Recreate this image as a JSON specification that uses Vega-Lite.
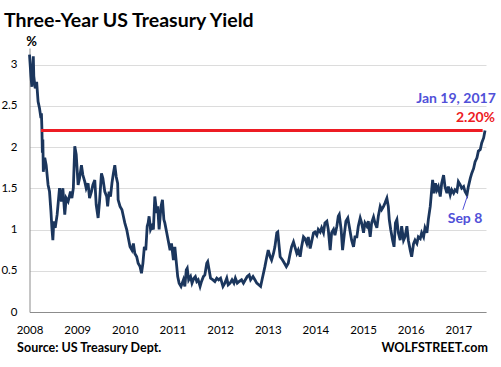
{
  "$schema": "https://vega.github.io/schema/vega-lite/v6.json",
  "width": 456.5,
  "height": 264,
  "autosize": "none",
  "padding": {"left": 29.5, "top": 48, "right": 15, "bottom": 55},
  "background": "white",
  "config": {"view": {"stroke": null}, "font": "Lato"},
  "title": {"text": "Three-Year US Treasury Yield", "anchor": "start", "frame": "group", "dx": -25.5, "dy": 21, "offset": 10, "font": "Lato", "fontSize": 19.5, "fontWeight": "bold", "color": "#000000", "baseline": "alphabetic"},
  "datasets": {
    "yield": [
      {"t": 2008.00, "v": 3.12}, {"t": 2008.03, "v": 2.86}, {"t": 2008.05, "v": 2.73}, {"t": 2008.08, "v": 3.10}, {"t": 2008.09, "v": 2.86},
      {"t": 2008.12, "v": 2.71}, {"t": 2008.15, "v": 2.79}, {"t": 2008.18, "v": 2.55}, {"t": 2008.21, "v": 2.47}, {"t": 2008.24, "v": 2.35},
      {"t": 2008.25, "v": 2.41}, {"t": 2008.26, "v": 2.23}, {"t": 2008.27, "v": 1.93}, {"t": 2008.28, "v": 2.09}, {"t": 2008.29, "v": 1.70},
      {"t": 2008.32, "v": 1.87}, {"t": 2008.35, "v": 1.78}, {"t": 2008.39, "v": 1.54}, {"t": 2008.42, "v": 1.46}, {"t": 2008.45, "v": 1.22},
      {"t": 2008.47, "v": 1.02}, {"t": 2008.49, "v": 0.87}, {"t": 2008.51, "v": 1.10}, {"t": 2008.54, "v": 1.02}, {"t": 2008.58, "v": 1.18},
      {"t": 2008.63, "v": 1.50}, {"t": 2008.67, "v": 1.34}, {"t": 2008.70, "v": 1.50}, {"t": 2008.74, "v": 1.18}, {"t": 2008.77, "v": 1.38},
      {"t": 2008.81, "v": 1.34}, {"t": 2008.86, "v": 1.46}, {"t": 2008.89, "v": 1.38}, {"t": 2008.92, "v": 1.50}, {"t": 2008.95, "v": 2.01},
      {"t": 2008.98, "v": 1.91}, {"t": 2009.02, "v": 1.54}, {"t": 2009.05, "v": 1.62}, {"t": 2009.09, "v": 1.78}, {"t": 2009.12, "v": 1.66},
      {"t": 2009.16, "v": 1.58}, {"t": 2009.19, "v": 1.50}, {"t": 2009.23, "v": 1.56}, {"t": 2009.26, "v": 1.38}, {"t": 2009.30, "v": 1.46},
      {"t": 2009.33, "v": 1.54}, {"t": 2009.37, "v": 1.60}, {"t": 2009.40, "v": 1.30}, {"t": 2009.44, "v": 1.14}, {"t": 2009.47, "v": 1.34},
      {"t": 2009.51, "v": 1.68}, {"t": 2009.54, "v": 1.62}, {"t": 2009.58, "v": 1.46}, {"t": 2009.62, "v": 1.40}, {"t": 2009.64, "v": 1.28},
      {"t": 2009.67, "v": 1.46}, {"t": 2009.70, "v": 1.40}, {"t": 2009.73, "v": 1.56}, {"t": 2009.76, "v": 1.68}, {"t": 2009.79, "v": 1.78},
      {"t": 2009.82, "v": 1.64}, {"t": 2009.85, "v": 1.56}, {"t": 2009.86, "v": 1.36}, {"t": 2009.90, "v": 1.28}, {"t": 2009.94, "v": 1.24},
      {"t": 2009.97, "v": 1.16}, {"t": 2010.00, "v": 1.08}, {"t": 2010.04, "v": 1.00}, {"t": 2010.07, "v": 0.91}, {"t": 2010.11, "v": 0.79},
      {"t": 2010.15, "v": 0.75}, {"t": 2010.18, "v": 0.83}, {"t": 2010.21, "v": 0.71}, {"t": 2010.25, "v": 0.67}, {"t": 2010.28, "v": 0.59},
      {"t": 2010.32, "v": 0.55}, {"t": 2010.35, "v": 0.47}, {"t": 2010.38, "v": 0.59}, {"t": 2010.41, "v": 0.79}, {"t": 2010.44, "v": 0.75},
      {"t": 2010.47, "v": 1.04}, {"t": 2010.49, "v": 1.08}, {"t": 2010.51, "v": 1.16}, {"t": 2010.54, "v": 1.00}, {"t": 2010.57, "v": 1.04},
      {"t": 2010.60, "v": 1.00}, {"t": 2010.63, "v": 1.40}, {"t": 2010.67, "v": 1.20}, {"t": 2010.69, "v": 1.28}, {"t": 2010.72, "v": 1.00},
      {"t": 2010.76, "v": 1.28}, {"t": 2010.79, "v": 1.36}, {"t": 2010.82, "v": 1.12}, {"t": 2010.84, "v": 1.08}, {"t": 2010.88, "v": 0.96},
      {"t": 2010.91, "v": 0.87}, {"t": 2010.95, "v": 0.75}, {"t": 2010.98, "v": 0.83}, {"t": 2011.02, "v": 0.63}, {"t": 2011.05, "v": 0.79},
      {"t": 2011.09, "v": 0.55}, {"t": 2011.11, "v": 0.43}, {"t": 2011.14, "v": 0.35}, {"t": 2011.18, "v": 0.31}, {"t": 2011.23, "v": 0.39},
      {"t": 2011.26, "v": 0.31}, {"t": 2011.29, "v": 0.51}, {"t": 2011.31, "v": 0.53}, {"t": 2011.34, "v": 0.39}, {"t": 2011.38, "v": 0.43},
      {"t": 2011.41, "v": 0.35}, {"t": 2011.45, "v": 0.41}, {"t": 2011.48, "v": 0.43}, {"t": 2011.51, "v": 0.37}, {"t": 2011.54, "v": 0.39},
      {"t": 2011.58, "v": 0.31}, {"t": 2011.61, "v": 0.37}, {"t": 2011.65, "v": 0.43}, {"t": 2011.68, "v": 0.45}, {"t": 2011.72, "v": 0.59},
      {"t": 2011.74, "v": 0.61}, {"t": 2011.77, "v": 0.51}, {"t": 2011.80, "v": 0.41}, {"t": 2011.85, "v": 0.39}, {"t": 2011.89, "v": 0.37},
      {"t": 2011.93, "v": 0.41}, {"t": 2011.97, "v": 0.39}, {"t": 2012.01, "v": 0.41}, {"t": 2012.06, "v": 0.31}, {"t": 2012.10, "v": 0.35},
      {"t": 2012.14, "v": 0.41}, {"t": 2012.17, "v": 0.33}, {"t": 2012.21, "v": 0.35}, {"t": 2012.25, "v": 0.39}, {"t": 2012.29, "v": 0.35},
      {"t": 2012.32, "v": 0.41}, {"t": 2012.36, "v": 0.35}, {"t": 2012.40, "v": 0.37}, {"t": 2012.45, "v": 0.39}, {"t": 2012.49, "v": 0.35},
      {"t": 2012.53, "v": 0.39}, {"t": 2012.57, "v": 0.43}, {"t": 2012.61, "v": 0.45}, {"t": 2012.64, "v": 0.39}, {"t": 2012.69, "v": 0.43},
      {"t": 2012.73, "v": 0.39}, {"t": 2012.77, "v": 0.35}, {"t": 2012.81, "v": 0.33}, {"t": 2012.85, "v": 0.31}, {"t": 2012.88, "v": 0.39},
      {"t": 2012.91, "v": 0.47}, {"t": 2012.94, "v": 0.55}, {"t": 2012.98, "v": 0.67}, {"t": 2013.01, "v": 0.75}, {"t": 2013.05, "v": 0.67},
      {"t": 2013.08, "v": 0.63}, {"t": 2013.12, "v": 0.71}, {"t": 2013.15, "v": 0.79}, {"t": 2013.19, "v": 0.96}, {"t": 2013.21, "v": 0.97},
      {"t": 2013.24, "v": 0.79}, {"t": 2013.26, "v": 0.67}, {"t": 2013.31, "v": 0.63}, {"t": 2013.35, "v": 0.59}, {"t": 2013.39, "v": 0.55},
      {"t": 2013.43, "v": 0.59}, {"t": 2013.47, "v": 0.71}, {"t": 2013.50, "v": 0.79}, {"t": 2013.54, "v": 0.85}, {"t": 2013.57, "v": 0.79},
      {"t": 2013.61, "v": 0.71}, {"t": 2013.64, "v": 0.75}, {"t": 2013.68, "v": 0.67}, {"t": 2013.71, "v": 0.79}, {"t": 2013.75, "v": 0.91},
      {"t": 2013.78, "v": 0.89}, {"t": 2013.82, "v": 0.83}, {"t": 2013.85, "v": 0.91}, {"t": 2013.89, "v": 0.77}, {"t": 2013.92, "v": 0.85},
      {"t": 2013.96, "v": 0.96}, {"t": 2013.99, "v": 0.97}, {"t": 2014.03, "v": 0.93}, {"t": 2014.06, "v": 1.00}, {"t": 2014.10, "v": 0.97},
      {"t": 2014.13, "v": 1.02}, {"t": 2014.17, "v": 0.96}, {"t": 2014.20, "v": 1.08}, {"t": 2014.24, "v": 1.10}, {"t": 2014.27, "v": 1.00},
      {"t": 2014.31, "v": 0.75}, {"t": 2014.34, "v": 0.96}, {"t": 2014.38, "v": 1.00}, {"t": 2014.41, "v": 0.93}, {"t": 2014.45, "v": 1.04},
      {"t": 2014.48, "v": 1.16}, {"t": 2014.50, "v": 1.18}, {"t": 2014.54, "v": 1.00}, {"t": 2014.57, "v": 0.75}, {"t": 2014.61, "v": 0.96},
      {"t": 2014.64, "v": 1.10}, {"t": 2014.68, "v": 1.14}, {"t": 2014.71, "v": 1.04}, {"t": 2014.76, "v": 0.87}, {"t": 2014.80, "v": 0.79},
      {"t": 2014.83, "v": 0.91}, {"t": 2014.87, "v": 0.91}, {"t": 2014.90, "v": 1.04}, {"t": 2014.94, "v": 1.14}, {"t": 2014.97, "v": 1.08},
      {"t": 2015.01, "v": 0.96}, {"t": 2015.04, "v": 1.08}, {"t": 2015.08, "v": 1.04}, {"t": 2015.11, "v": 1.10}, {"t": 2015.15, "v": 0.91},
      {"t": 2015.18, "v": 1.08}, {"t": 2015.22, "v": 1.15}, {"t": 2015.25, "v": 1.08}, {"t": 2015.29, "v": 1.02}, {"t": 2015.32, "v": 1.16},
      {"t": 2015.36, "v": 1.28}, {"t": 2015.39, "v": 1.24}, {"t": 2015.43, "v": 1.28}, {"t": 2015.46, "v": 1.32}, {"t": 2015.50, "v": 1.38},
      {"t": 2015.53, "v": 1.28}, {"t": 2015.55, "v": 1.12}, {"t": 2015.58, "v": 1.00}, {"t": 2015.62, "v": 0.87}, {"t": 2015.65, "v": 0.79},
      {"t": 2015.68, "v": 1.08}, {"t": 2015.71, "v": 1.12}, {"t": 2015.74, "v": 0.96}, {"t": 2015.78, "v": 0.87}, {"t": 2015.81, "v": 1.04},
      {"t": 2015.85, "v": 0.87}, {"t": 2015.88, "v": 0.91}, {"t": 2015.92, "v": 1.04}, {"t": 2015.95, "v": 0.87}, {"t": 2015.99, "v": 0.75},
      {"t": 2016.02, "v": 0.67}, {"t": 2016.06, "v": 0.83}, {"t": 2016.09, "v": 0.87}, {"t": 2016.13, "v": 0.83}, {"t": 2016.16, "v": 0.91},
      {"t": 2016.20, "v": 0.89}, {"t": 2016.23, "v": 0.96}, {"t": 2016.27, "v": 0.91}, {"t": 2016.30, "v": 1.02}, {"t": 2016.34, "v": 0.96},
      {"t": 2016.37, "v": 1.12}, {"t": 2016.41, "v": 1.28}, {"t": 2016.44, "v": 1.48}, {"t": 2016.46, "v": 1.60}, {"t": 2016.49, "v": 1.44},
      {"t": 2016.52, "v": 1.56}, {"t": 2016.55, "v": 1.48}, {"t": 2016.58, "v": 1.52}, {"t": 2016.62, "v": 1.40}, {"t": 2016.65, "v": 1.56},
      {"t": 2016.69, "v": 1.66}, {"t": 2016.72, "v": 1.52}, {"t": 2016.76, "v": 1.44}, {"t": 2016.79, "v": 1.52}, {"t": 2016.83, "v": 1.42},
      {"t": 2016.86, "v": 1.48}, {"t": 2016.90, "v": 1.44}, {"t": 2016.93, "v": 1.48}, {"t": 2016.97, "v": 1.46}, {"t": 2017.00, "v": 1.58},
      {"t": 2017.04, "v": 1.54}, {"t": 2017.07, "v": 1.50}, {"t": 2017.11, "v": 1.52}, {"t": 2017.14, "v": 1.46}, {"t": 2017.18, "v": 1.42},
      {"t": 2017.21, "v": 1.52}, {"t": 2017.25, "v": 1.62}, {"t": 2017.28, "v": 1.68}, {"t": 2017.32, "v": 1.74}, {"t": 2017.35, "v": 1.82},
      {"t": 2017.39, "v": 1.87}, {"t": 2017.42, "v": 1.95}, {"t": 2017.46, "v": 1.97}, {"t": 2017.49, "v": 2.05}, {"t": 2017.53, "v": 2.11},
      {"t": 2017.56, "v": 2.20}
    ],
    "ref": [{"t": 2008.24, "v": 2.2}, {"t": 2017.51, "v": 2.2}],
    "notes": [
      {"t": 2016.95, "v": 2.53, "label": "Jan 19, 2017", "kind": "blue"},
      {"t": 2017.36, "v": 2.30, "label": "2.20%", "kind": "red"},
      {"t": 2017.14, "v": 1.08, "label": "Sep 8", "kind": "blue"}
    ],
    "arrow": [{"t": 2017.093, "v": 1.238, "t2": 2017.19, "v2": 1.408}],
    "footLeft": [{"t": 2007.74, "v": -0.485, "label": "Source: US Treasury Dept."}],
    "footRight": [{"t": 2017.62, "v": -0.485, "label": "WOLFSTREET.com"}]
  },
  "layer": [
    {
      "data": {"name": "yield"},
      "mark": {"type": "line", "color": "#1b365d", "strokeWidth": 2.8, "clip": false},
      "encoding": {
        "x": {"field": "t", "type": "quantitative",
          "scale": {"domain": [2008, 2017.58], "nice": false, "zero": false},
          "axis": {"values": [2008, 2009, 2010, 2011, 2012, 2013, 2014, 2015, 2016, 2017], "format": "d", "title": null, "grid": false, "ticks": false, "domainColor": "#8c8c8c", "domainWidth": 1, "labelFont": "Lato", "labelFontSize": 11.5, "labelColor": "#000000", "labelPadding": 12, "labelFlush": false}},
        "y": {"field": "v", "type": "quantitative",
          "scale": {"domain": [0, 3.2], "nice": false, "zero": true},
          "axis": {"values": [0, 0.5, 1, 1.5, 2, 2.5, 3], "format": "~g", "grid": true, "gridColor": "#dcdcdc", "gridWidth": 1, "ticks": false, "domainColor": "#8c8c8c", "domainWidth": 1, "labelFont": "Lato", "labelFontSize": 11.5, "labelColor": "#000000", "labelPadding": 12.5,
            "title": "%", "titleAngle": 0, "titleAlign": "center", "titleBaseline": "alphabetic", "titleX": 1.5, "titleY": -3, "titleFont": "Lato", "titleFontSize": 13, "titleFontWeight": "bold", "titleColor": "#000000"}}
      }
    },
    {
      "data": {"name": "ref"},
      "mark": {"type": "line", "color": "#ed1c24", "strokeWidth": 3.2},
      "encoding": {
        "x": {"field": "t", "type": "quantitative"},
        "y": {"field": "v", "type": "quantitative"}
      }
    },
    {
      "data": {"name": "arrow"},
      "mark": {"type": "rule", "color": "#5050d8", "strokeWidth": 1},
      "encoding": {
        "x": {"field": "t", "type": "quantitative"},
        "y": {"field": "v", "type": "quantitative"},
        "x2": {"field": "t2"},
        "y2": {"field": "v2"}
      }
    },
    {
      "data": {"name": "notes"},
      "mark": {"type": "text", "font": "Lato", "fontSize": 14, "fontWeight": "bold", "align": "center", "baseline": "alphabetic", "clip": false},
      "encoding": {
        "x": {"field": "t", "type": "quantitative"},
        "y": {"field": "v", "type": "quantitative"},
        "text": {"field": "label"},
        "color": {"field": "kind", "type": "nominal", "scale": {"domain": ["blue", "red"], "range": ["#5050d8", "#ed1c24"]}, "legend": null}
      }
    },
    {
      "data": {"name": "footLeft"},
      "mark": {"type": "text", "font": "Lato", "fontSize": 12.5, "fontWeight": "bold", "baseline": "alphabetic", "align": "left", "color": "#000000", "clip": false},
      "encoding": {
        "x": {"field": "t", "type": "quantitative"},
        "y": {"field": "v", "type": "quantitative"},
        "text": {"field": "label"}
      }
    },
    {
      "data": {"name": "footRight"},
      "mark": {"type": "text", "font": "Lato", "fontSize": 12.5, "fontWeight": "bold", "baseline": "alphabetic", "align": "right", "color": "#000000", "clip": false},
      "encoding": {
        "x": {"field": "t", "type": "quantitative"},
        "y": {"field": "v", "type": "quantitative"},
        "text": {"field": "label"}
      }
    }
  ]
}
